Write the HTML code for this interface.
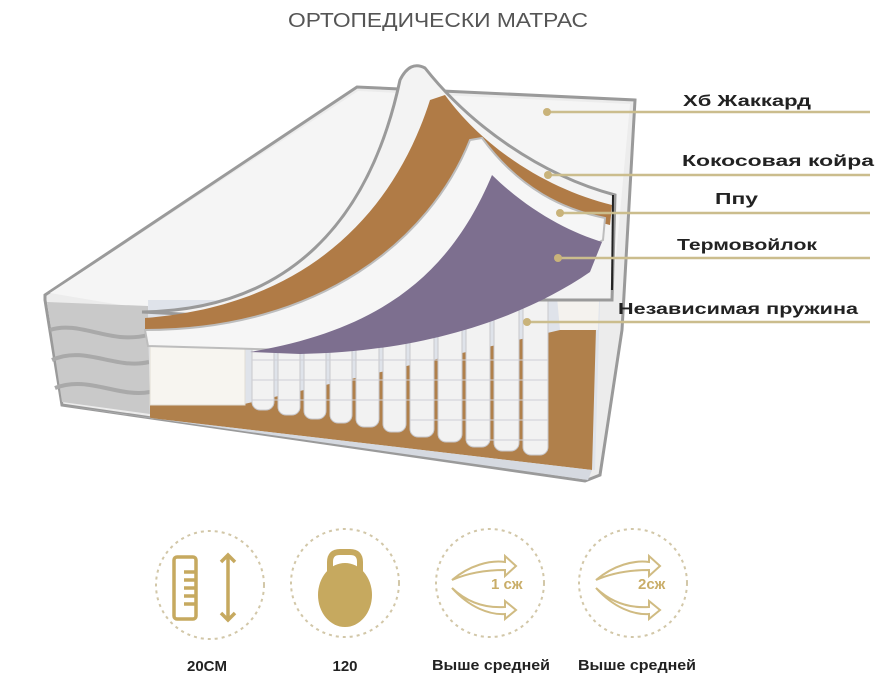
<!DOCTYPE html>
<html><head><meta charset="utf-8"><style>
html,body{margin:0;padding:0;background:#fff;}
svg{display:block;}
text{font-family:"Liberation Sans","DejaVu Sans",sans-serif;}
</style></head><body>
<svg width="878" height="700" viewBox="0 0 878 700" xmlns="http://www.w3.org/2000/svg">
<text x="438" y="27" text-anchor="middle" font-size="20" fill="#555" textLength="300" lengthAdjust="spacingAndGlyphs">ОРТОПЕДИЧЕСКИ МАТРАС</text>

<!-- body -->
<polygon points="45,295 357,87 635,100 622,330 600,475 585,481 62,405 45,300" fill="#ececec" stroke="#9a9a9a" stroke-width="3"/>
<polygon points="50,293 358,91 630,104 612,300 150,310" fill="#f5f5f5"/>
<!-- left side panel -->
<polygon points="47,302 148,306 150,414 62,402" fill="#c9c9c9"/>
<path d="M50,330 C80,320 110,345 148,335 M52,360 C85,345 115,370 149,362 M55,388 C88,375 118,398 150,392" stroke="#a9a9a9" stroke-width="4" fill="none"/>
<!-- cut face bg -->
<polygon points="148,300 600,300 595,470 150,418" fill="#dfe3ea"/>
<!-- coir bottom -->
<polygon points="150,405 240,405 560,330 596,328 592,470 150,418" fill="#b0804b"/>
<polygon points="150,418 592,470 588,480 60,405" fill="#d5d9e0"/>
<!-- springs -->
<g fill="#f2f2f2" stroke="#c8c8cc" stroke-width="1">
<rect x="252" y="338" width="22" height="72" rx="8"/>
<rect x="278" y="336" width="22" height="79" rx="8"/>
<rect x="304" y="334" width="22" height="85" rx="8"/>
<rect x="330" y="332" width="22" height="91" rx="8"/>
<rect x="356" y="330" width="23" height="97" rx="8"/>
<rect x="383" y="328" width="23" height="104" rx="8"/>
<rect x="410" y="322" width="24" height="115" rx="8"/>
<rect x="438" y="312" width="24" height="130" rx="8"/>
<rect x="466" y="302" width="24" height="145" rx="8"/>
<rect x="494" y="294" width="25" height="157" rx="8"/>
<rect x="523" y="290" width="25" height="165" rx="8"/>
</g>
<g stroke="#cfcfd6" stroke-width="1">
<path d="M252,360 H548 M252,380 H548 M252,400 H548 M410,420 H548 M466,440 H548"/>
</g>
<!-- white foam block -->
<polygon points="150,330 238,330 245,340 245,405 150,405" fill="#f7f5f0" stroke="#e0ddd5"/>
<polygon points="555,275 600,275 598,330 560,330" fill="#f4f2ee"/>

<!-- jacquard flap -->
<path d="M142,312 C290,310 370,220 400,80 Q410,60 425,68 C470,125 540,175 615,195 L612,300 L500,300 L300,320 Z" fill="#f3f3f3" stroke="#9a9a9a" stroke-width="3"/>
<!-- coir flap -->
<path d="M145,318 C310,305 395,210 430,100 L445,95 C485,150 550,190 612,205 L610,225 C570,215 530,200 500,160 C450,250 340,335 145,335 Z" fill="#b07b46"/>
<!-- PPU -->
<path d="M145,330 C320,330 430,240 470,140 L482,138 C520,190 565,210 605,218 L603,240 C520,290 420,340 290,350 L148,346 Z" fill="#f6f6f6" stroke="#bdbdbd" stroke-width="2"/>
<!-- purple -->
<path d="M250,352 C380,330 450,275 492,175 C530,212 570,232 602,242 L590,272 C520,320 420,352 300,354 Z" fill="#7d6f8f"/>
<line x1="613" y1="195" x2="612" y2="290" stroke="#222" stroke-width="2"/>

<!-- callouts -->
<g stroke="#cbbd8d" stroke-width="2.5">
<line x1="547" y1="112" x2="870" y2="112"/>
<line x1="548" y1="175" x2="870" y2="175"/>
<line x1="560" y1="213" x2="870" y2="213"/>
<line x1="558" y1="258" x2="870" y2="258"/>
<line x1="527" y1="322" x2="870" y2="322"/>
</g>
<g fill="#c9b37a">
<circle cx="547" cy="112" r="4"/><circle cx="548" cy="175" r="4"/><circle cx="560" cy="213" r="4"/><circle cx="558" cy="258" r="4"/><circle cx="527" cy="322" r="4"/>
</g>
<g font-size="16" font-weight="bold" fill="#222">
<text x="683" y="106" textLength="128" lengthAdjust="spacingAndGlyphs">Хб Жаккард</text>
<text x="682" y="166" textLength="192" lengthAdjust="spacingAndGlyphs">Кокосовая койра</text>
<text x="715" y="204" textLength="43" lengthAdjust="spacingAndGlyphs">Ппу</text>
<text x="677" y="250" textLength="140" lengthAdjust="spacingAndGlyphs">Термовойлок</text>
<text x="618" y="314" textLength="240" lengthAdjust="spacingAndGlyphs">Независимая пружина</text>
</g>

<!-- icons -->
<g fill="none" stroke="#d2c7a8" stroke-width="2" stroke-dasharray="3,4">
<circle cx="210" cy="585" r="54"/><circle cx="345" cy="583" r="54"/><circle cx="490" cy="583" r="54"/><circle cx="633" cy="583" r="54"/>
</g>
<g stroke="#c6a95f" stroke-width="3.5" fill="none">
<rect x="174" y="557" width="22" height="62" rx="3"/>
<path d="M184,572 H196 M184,580 H196 M184,588 H196 M184,596 H196 M184,604 H196"/>
<path d="M228,555 V620 M221,562 L228,555 L235,562 M221,613 L228,620 L235,613"/>
</g>
<path d="M330,576 V562 Q330,552 340,552 H350 Q360,552 360,562 V576" stroke="#c6a95f" stroke-width="6" fill="none"/>
<ellipse cx="345" cy="595" rx="27" ry="32" fill="#c6a95f"/>
<g stroke="#d0bb82" stroke-width="2" fill="none">
<path d="M452,580 C470,565 490,560 505,562 L505,556 L516,566 L505,576 L505,570 C490,570 470,572 452,580 Z"/>
<path d="M452,588 C470,605 490,608 505,607 L505,601 L516,610 L505,619 L505,614 C490,615 470,608 452,588 Z"/>
<path d="M596,580 C614,565 634,560 649,562 L649,556 L660,566 L649,576 L649,570 C634,570 614,572 596,580 Z"/>
<path d="M596,588 C614,605 634,608 649,607 L649,601 L660,610 L649,619 L649,614 C634,615 614,608 596,588 Z"/>
</g>
<text x="491" y="589" font-size="15" font-weight="bold" fill="#c9ad68">1 сж</text>
<text x="638" y="589" font-size="15" font-weight="bold" fill="#c9ad68">2сж</text>

<g font-size="15" font-weight="bold" fill="#222" text-anchor="middle">
<text x="207" y="671">20CM</text>
<text x="345" y="671">120</text>
<text x="491" y="670" textLength="118" lengthAdjust="spacingAndGlyphs">Выше средней</text>
<text x="637" y="670" textLength="118" lengthAdjust="spacingAndGlyphs">Выше средней</text>
</g>
</svg>
</body></html>
